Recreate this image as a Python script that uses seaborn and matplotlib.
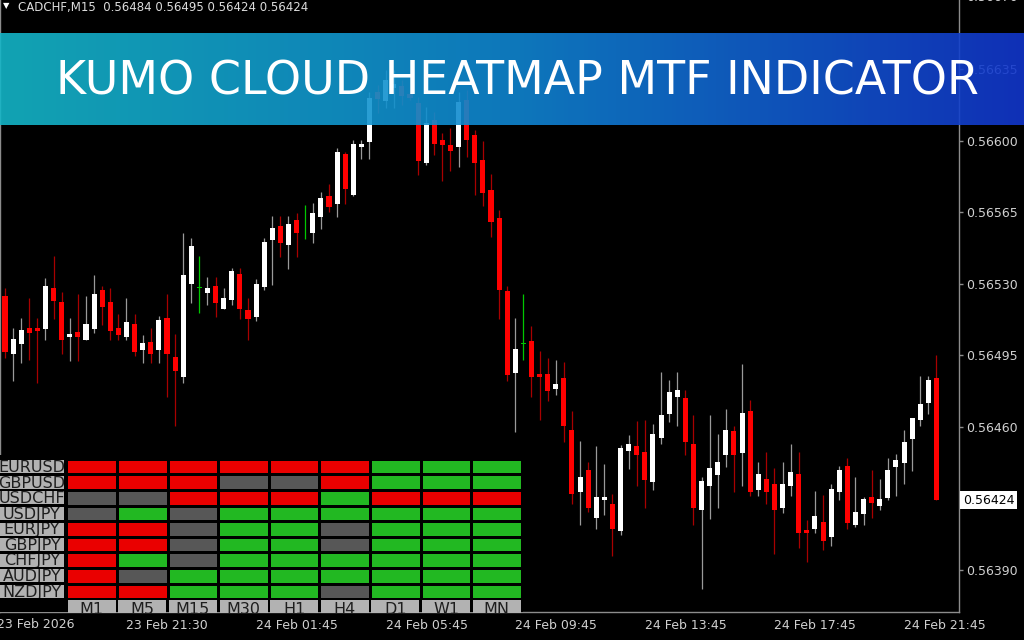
import numpy as np
import pandas as pd
import matplotlib
matplotlib.use('Agg')
import matplotlib.pyplot as plt
import seaborn as sns
from matplotlib.colors import ListedColormap, LinearSegmentedColormap
from matplotlib.patches import Rectangle
from matplotlib.transforms import Affine2D, blended_transform_factory

sns.set_theme(style='dark')
plt.rcParams['font.family'] = ['DejaVu Sans']

# --- datos del grafico (CADCHF M15) ---
header = 'CADCHF,M15  0.56484 0.56495 0.56424 0.56424'
title = 'KUMO CLOUD HEATMAP MTF INDICATOR'

opens = [0.565241, 0.564956, 0.565006, 0.565083, 0.565085, 0.565080, 0.565282, 0.565212, 0.565040, 0.565063,
         0.565026, 0.565080, 0.565272, 0.565214, 0.565083, 0.565040, 0.565102, 0.564975, 0.565018, 0.564975,
         0.565132, 0.564941, 0.564846, 0.565298, 0.565281, 0.565258, 0.565292, 0.565179, 0.565219, 0.565351,
         0.565174, 0.565139, 0.565287, 0.565513, 0.565586, 0.565491, 0.565615, 0.565545, 0.565550, 0.565630,
         0.565730, 0.565689, 0.565937, 0.565733, 0.565971, 0.565993, 0.566241, 0.566197, 0.566260, 0.566270,
         0.566230, 0.566184, 0.565893, 0.566102, 0.566007, 0.565978, 0.565971, 0.566200, 0.566027, 0.565909,
         0.565759, 0.565625, 0.565263, 0.564866, 0.565008, 0.565019, 0.564861, 0.564861, 0.564786, 0.564839,
         0.564586, 0.564281, 0.564389, 0.564152, 0.564242, 0.564225, 0.564092, 0.564483, 0.564506, 0.564479,
         0.564332, 0.564544, 0.564665, 0.564748, 0.564740, 0.564518, 0.564191, 0.564309, 0.564363, 0.564462,
         0.564578, 0.564474, 0.564676, 0.564289, 0.564343, 0.564323, 0.564201, 0.564310, 0.564368, 0.564096,
         0.564101, 0.564134, 0.564062, 0.564283, 0.564407, 0.564121, 0.564172, 0.564255, 0.564211, 0.564250,
         0.564403, 0.564423, 0.564542, 0.564632, 0.564717, 0.564840]
highs = [0.565280, 0.565085, 0.565134, 0.565232, 0.565134, 0.565331, 0.565436, 0.565261, 0.565134, 0.565253,
         0.565243, 0.565343, 0.565292, 0.565280, 0.565151, 0.565233, 0.565151, 0.565052, 0.565083, 0.565142,
         0.565253, 0.565054, 0.565547, 0.565527, 0.565436, 0.565333, 0.565333, 0.565282, 0.565377, 0.565377,
         0.565233, 0.565323, 0.565526, 0.565635, 0.565635, 0.565635, 0.565645, 0.565684, 0.565694, 0.565749,
         0.565789, 0.565967, 0.565947, 0.566006, 0.566006, 0.566238, 0.566274, 0.566347, 0.566347, 0.566298,
         0.566250, 0.566216, 0.566167, 0.566143, 0.566037, 0.566061, 0.566241, 0.566249, 0.566053, 0.565999,
         0.565838, 0.565664, 0.565292, 0.565134, 0.565253, 0.565094, 0.564970, 0.564939, 0.564930, 0.564918,
         0.564676, 0.564529, 0.564428, 0.564508, 0.564417, 0.564273, 0.564510, 0.564559, 0.564627, 0.564635,
         0.564616, 0.564870, 0.564831, 0.564870, 0.564779, 0.564657, 0.564354, 0.564657, 0.564567, 0.564686,
         0.564606, 0.564910, 0.564730, 0.564430, 0.564477, 0.564399, 0.564428, 0.564518, 0.564477, 0.564145,
         0.564284, 0.564265, 0.564322, 0.564407, 0.564448, 0.564353, 0.564255, 0.564387, 0.564343, 0.564448,
         0.564467, 0.564586, 0.564645, 0.564851, 0.564851, 0.564950]
lows = [0.564938, 0.564825, 0.564915, 0.564926, 0.564817, 0.565024, 0.565129, 0.564956, 0.564924, 0.564924,
        0.565024, 0.565060, 0.565099, 0.565027, 0.565027, 0.565027, 0.564946, 0.564915, 0.564915, 0.564915,
        0.564747, 0.564604, 0.564815, 0.565209, 0.565160, 0.565199, 0.565139, 0.565179, 0.565199, 0.565129,
        0.565026, 0.565119, 0.565268, 0.565297, 0.565431, 0.565372, 0.565431, 0.565521, 0.565501, 0.565570,
        0.565650, 0.565630, 0.565689, 0.565731, 0.565911, 0.565911, 0.566135, 0.566159, 0.566159, 0.566176,
        0.566200, 0.565833, 0.565882, 0.565931, 0.565805, 0.565854, 0.565873, 0.565922, 0.565735, 0.565681,
        0.565531, 0.565129, 0.564825, 0.564574, 0.564926, 0.564747, 0.564632, 0.564727, 0.564756, 0.564524,
        0.564222, 0.564121, 0.564183, 0.564101, 0.564170, 0.563967, 0.564072, 0.564394, 0.564310, 0.564203,
        0.564292, 0.564514, 0.564622, 0.564603, 0.564465, 0.564121, 0.563807, 0.564150, 0.564203, 0.564403,
        0.564281, 0.564309, 0.564261, 0.564260, 0.564221, 0.563977, 0.564181, 0.564261, 0.564007, 0.563938,
        0.564082, 0.563998, 0.564018, 0.564242, 0.564101, 0.564111, 0.564121, 0.564152, 0.564191, 0.564240,
        0.564260, 0.564319, 0.564384, 0.564604, 0.564663, 0.564240]
closes = [0.564967, 0.565029, 0.565073, 0.565060, 0.565070, 0.565292, 0.565218, 0.565027, 0.565054, 0.565040,
          0.565102, 0.565253, 0.565189, 0.565070, 0.565050, 0.565112, 0.564967, 0.565009, 0.564957, 0.565124,
          0.564957, 0.564876, 0.565343, 0.565486, 0.565281, 0.565282, 0.565209, 0.565233, 0.565362, 0.565179,
          0.565129, 0.565302, 0.565506, 0.565575, 0.565501, 0.565594, 0.565550, 0.565545, 0.565645, 0.565720,
          0.565679, 0.565947, 0.565764, 0.565986, 0.565986, 0.566211, 0.566203, 0.566298, 0.566280, 0.566220,
          0.566210, 0.565903, 0.566089, 0.565983, 0.565981, 0.565952, 0.566192, 0.566004, 0.565893, 0.565744,
          0.565601, 0.565268, 0.564856, 0.564980, 0.565008, 0.564846, 0.564845, 0.564776, 0.564812, 0.564604,
          0.564271, 0.564353, 0.564203, 0.564255, 0.564256, 0.564101, 0.564498, 0.564518, 0.564464, 0.564341,
          0.564567, 0.564657, 0.564769, 0.564781, 0.564524, 0.564203, 0.564333, 0.564399, 0.564428, 0.564586,
          0.564462, 0.564668, 0.564281, 0.564368, 0.564281, 0.564191, 0.564323, 0.564379, 0.564082, 0.564082,
          0.564165, 0.564043, 0.564294, 0.564389, 0.564131, 0.564185, 0.564245, 0.564230, 0.564245, 0.564389,
          0.564438, 0.564528, 0.564645, 0.564710, 0.564830, 0.564240]

price_ticks = [0.56390, 0.56460, 0.56495, 0.56530, 0.56565, 0.56600, 0.56635]
top_price = 0.56670
last_price = 0.56424

time_ticks = [15, 31, 47, 63, 79, 95, 111]
time_labels = ['23 Feb 21:30', '24 Feb 01:45', '24 Feb 05:45', '24 Feb 09:45',
               '24 Feb 13:45', '24 Feb 17:45', '24 Feb 21:45']
first_label = '23 Feb 2026'

pairs = ['EURUSD', 'GBPUSD', 'USDCHF', 'USDJPY', 'EURJPY', 'GBPJPY', 'CHFJPY', 'AUDJPY', 'NZDJPY']
timeframes = ['M1', 'M5', 'M15', 'M30', 'H1', 'H4', 'D1', 'W1', 'MN']
# -1 bajista (rojo), 0 neutro (gris), 1 alcista (verde)
trend = [[-1, -1, -1, -1, -1, -1, 1, 1, 1],
         [-1, -1, -1, 0, 0, -1, 1, 1, 1],
         [0, 0, -1, -1, -1, 1, -1, -1, -1],
         [0, 1, 0, 1, 1, 1, 1, 1, 1],
         [-1, -1, 0, 1, 1, 0, 1, 1, 1],
         [-1, -1, 0, 1, 1, 0, 1, 1, 1],
         [-1, 1, 0, 1, 1, 1, 1, 1, 1],
         [-1, 0, 1, 1, 1, 1, 1, 1, 1],
         [-1, -1, 1, 1, 1, 0, 1, 1, 1]]

# --- figura ---
W, H = 1024, 640
fig = plt.figure(figsize=(W / 100, H / 100), dpi=100, facecolor='black')
pix = Affine2D().scale(1 / W, -1 / H).translate(0, 1) + fig.transFigure


def px_box(x0, y0, x1, y1):
    return [x0 / W, 1 - y1 / H, (x1 - x0) / W, (y1 - y0) / H]


ax = fig.add_axes(px_box(0, 0, 959, 612))
ax.set_facecolor('black')

o = np.array(opens)
c = np.array(closes)
hi = np.array(highs)
lo = np.array(lows)
x = np.arange(len(o))
up = c > o
down = c < o
flat = c == o

body_col = np.where(up, '#FFFFFF', np.where(down, '#FF0000', '#00C800'))
wick_col = np.where(up, '#9A9A9A', np.where(down, '#A80000', '#00C800'))
heights = np.where(flat, 0.0000035, np.maximum(np.abs(c - o), 0.000008))
bottoms = np.where(flat, o - 0.0000017, np.minimum(o, c))

ax.vlines(x, lo, hi, colors=wick_col, linewidth=0.9, zorder=2)
ax.bar(x, heights, bottom=bottoms, width=0.62, color=body_col, linewidth=0, zorder=3)

ax.set_xlim(-0.617, 117.78)
ax.set_ylim(0.563694, 0.566690)

ax.yaxis.tick_right()
ax.set_yticks(price_ticks)
ax.set_yticklabels([f'{p:.5f}' for p in price_ticks])
ax.set_xticks(time_ticks)
ax.set_xticklabels(time_labels, ha='left')
ax.tick_params(axis='y', colors='#8C8C8C', labelcolor='#D0D0D0', length=3, width=1, pad=2, labelsize=9)
ax.tick_params(axis='x', colors='#8C8C8C', labelcolor='#D0D0D0', length=3, width=1, pad=2, labelsize=9)
ax.grid(False)
for side in ['right', 'bottom', 'left']:
    ax.spines[side].set_color('#8C8C8C')
    ax.spines[side].set_linewidth(1)
ax.spines['top'].set_visible(False)

yt = blended_transform_factory(ax.transAxes, ax.transData)
ax.text(1.007, top_price, f'{top_price:.5f}', transform=yt, va='center', ha='left',
        color='#D0D0D0', fontsize=9, clip_on=False)
ax.text(1.004, last_price, f'{last_price:.5f}', transform=yt, va='center', ha='left',
        color='black', fontsize=9, clip_on=False,
        bbox=dict(boxstyle='square,pad=0.2', fc='white', ec='none'))
fig.text(-3 / W, 1 - 625 / H, first_label, color='#D0D0D0', fontsize=9, va='center', ha='left')

# cabecera
fig.text(3 / W, 1 - 6 / H, '\u25BC', color='white', fontsize=6, va='center')
fig.text(18 / W, 1 - 7 / H, header, color='#DCDCDC', fontsize=8.5, va='center')

# --- panel heatmap ---
ax.add_patch(Rectangle((0, 455), 523, 157, transform=pix, fc='black', ec='none', zorder=10, clip_on=False))

ax_h = fig.add_axes(px_box(66.3, 458.8, 522, 599.2), zorder=5)
grid = pd.DataFrame(trend, index=pairs, columns=timeframes)
sns.heatmap(grid, ax=ax_h, cmap=ListedColormap(['#EA0000', '#575757', '#22B822']),
            vmin=-1.5, vmax=1.5, cbar=False, linewidths=2, linecolor='black',
            xticklabels=False, yticklabels=False)
ax_h.set_xlabel('')
ax_h.set_ylabel('')

row_h = (599.2 - 458.8) / len(pairs)
for r, name in enumerate(pairs):
    y0 = 458.8 + r * row_h + 1.3
    box = Rectangle((0, y0), 64, row_h - 2.6, transform=pix, fc='#B2B2B2', ec='none', zorder=6)
    fig.add_artist(box)
    t = fig.text(32, y0 + (row_h - 2.6) / 2 + 0.8, name, transform=pix, ha='center', va='center',
                 color='#1E1E1E', fontsize=11.5, zorder=7)
    t.set_clip_path(box)

col_w = (522 - 66.3) / len(timeframes)
for k, tf in enumerate(timeframes):
    x0 = 66.3 + k * col_w + 1.3
    box = Rectangle((x0, 600.4), col_w - 2.6, 12.5, transform=pix, fc='#B2B2B2', ec='none', zorder=6)
    fig.add_artist(box)
    t = fig.text(x0 + (col_w - 2.6) / 2, 609, tf, transform=pix, ha='center', va='center',
                 color='#1E1E1E', fontsize=11.5, zorder=7)
    t.set_clip_path(box)

# --- banner ---
ax_b = fig.add_axes(px_box(0, 33, 1024, 125), zorder=10)
grad = np.linspace(0, 1, 512).reshape(1, -1)
cmap_b = LinearSegmentedColormap.from_list('banner', ['#14B6C8', '#0F86D1', '#1236CC'])
ax_b.imshow(grad, aspect='auto', cmap=cmap_b, extent=(0, 1, 0, 1), alpha=0.9)
ax_b.set_axis_off()
ax_b.text(0.505, 0.47, title, ha='center', va='center', color='white',
          fontsize=33, fontweight='normal', family=['DejaVu Sans'])

plt.savefig('out.png', dpi=100, facecolor='black')
